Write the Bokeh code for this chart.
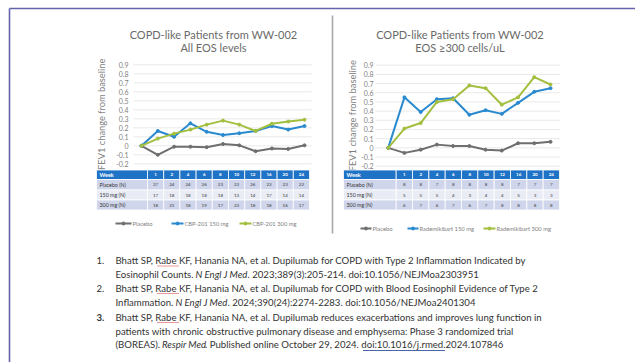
from bokeh.plotting import figure
from bokeh.models import Range1d
from bokeh.embed import file_html
from bokeh.resources import INLINE
from bokeh.core.properties import value

# ---------------- data ----------------
weeks = ["0", "1", "2", "4", "6", "8", "10", "12", "16", "20", "24"]
table_weeks = ["1", "2", "4", "6", "8", "10", "12", "16", "20", "24"]
y_ticks = [0.9, 0.8, 0.7, 0.6, 0.5, 0.4, 0.3, 0.2, 0.1, 0.0, -0.1, -0.2]
y_tick_labels = ["0.9", "0.8", "0.7", "0.6", "0.5", "0.4", "0.3", "0.2", "0.1", "0", "-0.1", "-0.2"]

# Left chart: All EOS levels
all_placebo = [0, -0.10, -0.01, -0.01, -0.015, 0.02, 0.005, -0.06, -0.03, -0.035, 0.005]
all_150 = [0, 0.165, 0.10, 0.25, 0.155, 0.12, 0.14, 0.165, 0.22, 0.18, 0.22]
all_300 = [0, 0.08, 0.135, 0.18, 0.235, 0.28, 0.235, 0.165, 0.245, 0.27, 0.29]
all_n_placebo = ["27", "24", "24", "26", "23", "23", "26", "23", "23", "22"]
all_n_150 = ["17", "18", "18", "18", "18", "13", "14", "17", "14", "14"]
all_n_300 = ["18", "21", "18", "19", "17", "23", "18", "18", "16", "17"]

# Right chart: EOS >=300 cells/uL
eos_placebo = [0, -0.055, -0.02, 0.035, 0.02, 0.02, -0.02, -0.03, 0.05, 0.05, 0.065]
eos_150 = [0, 0.55, 0.39, 0.53, 0.54, 0.36, 0.41, 0.37, 0.49, 0.61, 0.65]
eos_300 = [0, 0.21, 0.27, 0.50, 0.53, 0.68, 0.65, 0.47, 0.55, 0.77, 0.69]
eos_n_placebo = ["8", "8", "7", "8", "8", "8", "8", "7", "7", "7"]
eos_n_150 = ["5", "5", "5", "4", "3", "4", "4", "5", "3", "3"]
eos_n_300 = ["6", "7", "6", "7", "6", "7", "8", "8", "8", "8"]

row_labels = ["Placebo (N)", "150 mg (N)", "300 mg (N)"]

# ---------------- styles ----------------
W, H = 635, 362
GRAY = "#6f6f6f"
BLUE = "#2a8ad0"
GREEN = "#a3bf3f"
HEADER = "#1f73c6"
ROW_A = "#cfd5ea"
ROW_B = "#e9ebf5"
TXT = "#7f7f7f"
FRAME = "#6464aa"
FONT = "Lato"

p = figure(width=W, height=H, x_range=Range1d(0, W), y_range=Range1d(H, 0),
           output_backend="svg", toolbar_location=None, min_border=0,
           x_axis_type=None, y_axis_type=None)
p.grid.visible = False
p.outline_line_color = None
p.background_fill_color = "white"
p.border_fill_color = "white"


def x_range_from(px0, px10):
    s = (px10 - px0) / 10.0
    return Range1d(-px0 / s, (W - px0) / s)


def y_range_from(py_top, v_top, py_bot, v_bot):
    scale = (py_bot - py_top) / (v_top - v_bot)
    return Range1d(v_bot - (H - py_bot) / scale, v_top + py_top / scale)


p.extra_x_ranges = {"LX": x_range_from(141, 304), "RX": x_range_from(387.7, 550)}
p.extra_y_ranges = {"L": y_range_from(64.3, 0.9, 163.3, -0.2),
                    "R": y_range_from(64.7, 0.9, 165.7, -0.2)}

# frame lines
p.line(x=[9, W], y=[8, 8], line_color=FRAME, line_width=1.6)
p.line(x=[9, 9], y=[8, H], line_color=FRAME, line_width=1.6)
# divider
p.line(x=[332, 332], y=[15, 233], line_color="#a9a9a9", line_width=1.6)


def chart(xr, yr, gx0, gx1, lab_x, ytitle_x, title_x, title_lines,
          series, tbl_x0, tbl_hdr_x1, tbl_x1, n_rows, legend_y, legend_items):
    # grid
    for v in y_ticks:
        p.line(x=[gx0, gx1], y=[v, v], y_range_name=yr, line_color="#e3e3e3", line_width=0.8)
    # tick labels
    p.text(x=[lab_x] * len(y_ticks), y=y_ticks, text=y_tick_labels, y_range_name=yr,
           text_align="right", text_baseline="middle", text_font=value(FONT),
           text_font_size="7px", text_color=TXT)
    # y title
    p.text(x=[ytitle_x], y=[0.35], text=["FEV1 change from baseline"], y_range_name=yr,
           angle=1.5708, text_align="center", text_baseline="middle",
           text_font=value(FONT), text_font_size="9.3px", text_color=TXT)
    # title
    p.text(x=[title_x] * 2, y=[33.5, 46.5], text=title_lines, text_align="center",
           text_baseline="middle", text_font=value(FONT), text_font_size="11px",
           text_color="#6a6a6a")
    # series
    xs = list(range(len(weeks)))
    for vals, col in series:
        p.line(x=xs, y=vals, x_range_name=xr, y_range_name=yr, line_color=col, line_width=2)
        p.scatter(x=xs, y=vals, x_range_name=xr, y_range_name=yr, size=3,
                  fill_color=col, line_color=col)
    # table
    ncol = len(table_weeks)
    cw = (tbl_x1 - tbl_hdr_x1) / ncol
    row_edges = [169.5, 179, 189.5, 199.5, 209.5]
    fills = [HEADER, ROW_A, ROW_B, ROW_A]
    for r in range(4):
        y0, y1 = row_edges[r], row_edges[r + 1]
        lefts = [tbl_x0] + [tbl_hdr_x1 + i * cw for i in range(ncol)]
        rights = [tbl_hdr_x1] + [tbl_hdr_x1 + (i + 1) * cw for i in range(ncol)]
        p.quad(left=lefts, right=rights, top=[y0] * len(lefts), bottom=[y1] * len(lefts),
               fill_color=fills[r], line_color="white", line_width=0.8)
    centers = [tbl_hdr_x1 + (i + 0.5) * cw for i in range(ncol)]
    ymid = [(row_edges[r] + row_edges[r + 1]) / 2 for r in range(4)]
    p.text(x=[tbl_x0 + 3], y=[ymid[0]], text=["Week"], text_baseline="middle",
           text_font=value(FONT), text_font_size="5.5px", text_font_style="bold",
           text_color="white")
    p.text(x=centers, y=[ymid[0]] * ncol, text=table_weeks, text_align="center",
           text_baseline="middle", text_font=value(FONT), text_font_size="4.5px",
           text_font_style="bold", text_color="white")
    for r in range(3):
        p.text(x=[tbl_x0 + 3], y=[ymid[r + 1]], text=[row_labels[r]], text_baseline="middle",
               text_font=value(FONT), text_font_size="5.3px", text_color="#3a3a3a")
        p.text(x=centers, y=[ymid[r + 1]] * ncol, text=n_rows[r], text_align="center",
               text_baseline="middle", text_font=value(FONT), text_font_size="4.5px",
               text_color="#3a3a3a")
    # legend
    for (lx0, lx1, label, col) in legend_items:
        p.line(x=[lx0, lx1], y=[legend_y, legend_y], line_color=col, line_width=1.8)
        p.scatter(x=[(lx0 + lx1) / 2], y=[legend_y], size=3, fill_color=col, line_color=col)
        p.text(x=[lx1 + 1], y=[legend_y], text=[label], text_baseline="middle",
               text_font=value(FONT), text_font_size="5.8px", text_color=TXT)


chart("LX", "L", 133, 311, 128, 101, 213, ["COPD-like Patients from WW-002", "All EOS levels"],
      [(all_placebo, GRAY), (all_150, BLUE), (all_300, GREEN)],
      96, 147, 309, [all_n_placebo, all_n_150, all_n_300], 223,
      [(115, 131, "Placebo", GRAY), (171, 183, "CBP-201 150 mg", BLUE),
       (239, 251, "CBP-201 300 mg", GREEN)])

chart("RX", "R", 375, 560, 373, 352, 459.5, ["COPD-like Patients from WW-002", "EOS \u2265300 cells/uL"],
      [(eos_placebo, GRAY), (eos_150, BLUE), (eos_300, GREEN)],
      343, 395.7, 559, [eos_n_placebo, eos_n_150, eos_n_300], 228,
      [(360, 371, "Placebo", GRAY), (407, 418, "Rademikibart 150 mg", BLUE),
       (483, 495, "Rademikibart 300 mg", GREEN)])

# ---------------- references ----------------
RF = "9.6px"
RC = "#333333"


def seg(x, y, s, style="normal"):
    p.text(x=[x], y=[y], text=[s], text_baseline="middle", text_font=value(FONT),
           text_font_size=RF, text_font_style=style, text_color=RC)


ly = [260, 273.5, 287.5, 301.5, 316.5, 330.5, 344]
for y, num in zip([ly[0], ly[2], ly[4]], ["1.", "2.", "3."]):
    seg(96, y, num, "bold" if num == "3." else "normal")
seg(115, ly[0], "Bhatt SP, Rabe KF, Hanania NA, et al. Dupilumab for COPD with Type 2 Inflammation Indicated by")
seg(115, ly[1], "Eosinophil Counts.")
seg(195, ly[1], "N Engl J Med", "italic")
seg(247, ly[1], ". 2023;389(3):205-214. doi:10.1056/NEJMoa2303951")
seg(115, ly[2], "Bhatt SP, Rabe KF, Hanania NA, et al. Dupilumab for COPD with Blood Eosinophil Evidence of Type 2")
seg(115, ly[3], "Inflammation.")
seg(175, ly[3], "N Engl J Med", "italic")
seg(227, ly[3], ". 2024;390(24):2274-2283. doi:10.1056/NEJMoa2401304")
seg(115, ly[4], "Bhatt SP, Rabe KF, Hanania NA, et al. Dupilumab reduces exacerbations and improves lung function in")
seg(115, ly[5], "patients with chronic obstructive pulmonary disease and emphysema: Phase 3 randomized trial")
seg(115, ly[6], "(BOREAS).")
seg(161.5, ly[6], "Respir Med", "italic")
seg(204.5, ly[6], ". Published online October 29, 2024. doi:10.1016/j.rmed.2024.107846")

# spell-check squiggles under "Rabe" and link underline
for y in [ly[0], ly[2], ly[4]]:
    p.line(x=[157, 178], y=[y + 5.5, y + 5.5], line_color="#d03030", line_width=1,
           line_dash="1 1")
p.line(x=[362.5, 444.5], y=[ly[6] + 6, ly[6] + 6], line_color="#4a66a8", line_width=1)

open("out.html", "w").write(file_html(p, INLINE))
